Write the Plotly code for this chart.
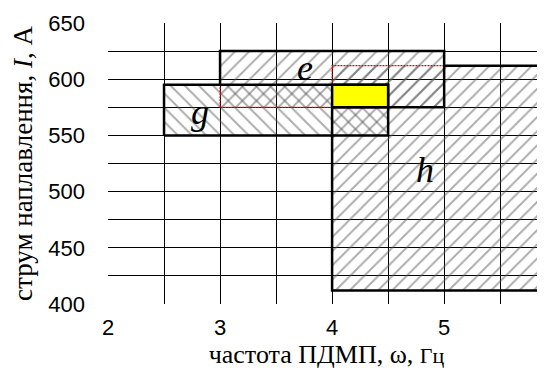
import plotly.graph_objects as go

# прямоугольные области режимов: g, e, h
rect_names = ['g', 'e', 'h']
rect_x0 = [2.5, 3.0, 4.0]
rect_x1 = [4.5, 5.0, 6.0]
rect_y0 = [550, 575, 412]
rect_y1 = [595, 625, 612]
rect_hatch = ['\\', '/', '/']

# спільна область (жовта)
common_x = [4.0, 4.5]
common_y = [575, 595]

# червоний пунктирний контур
red_x = [3.0, 3.0, 4.0, 4.0, 5.0, 5.0, 3.0]
red_y = [575, 595, 595, 612, 612, 575, 575]

# підписи областей
label_x = [2.82, 3.76, 4.83]
label_y = [571, 610, 519]

x_ticks = [2, 3, 4, 5]
y_ticks = [400, 450, 500, 550, 600, 650]

fig = go.Figure()

# заштриховані області (без рамок)
for i in range(len(rect_names)):
    xs = [rect_x0[i], rect_x1[i], rect_x1[i], rect_x0[i], rect_x0[i]]
    ys = [rect_y0[i], rect_y0[i], rect_y1[i], rect_y1[i], rect_y0[i]]
    fig.add_trace(go.Scatter(
        x=xs, y=ys, mode='lines', fill='toself',
        fillcolor='rgba(0,0,0,0)',
        fillpattern=dict(shape=rect_hatch[i], fgcolor='#5a5a5a', bgcolor='rgba(0,0,0,0)',
                         size=10, solidity=0.2, fillmode='overlay'),
        line=dict(width=0),
        showlegend=False, hoverinfo='skip'))

# червоний пунктир
fig.add_trace(go.Scatter(
    x=red_x, y=red_y, mode='lines',
    line=dict(color='red', width=1.2, dash='2px,1px'),
    showlegend=False, hoverinfo='skip'))

# видимі частини рамок
outlines = [
    ([rect_x0[0], rect_x1[0], rect_x1[0], rect_x0[0], rect_x0[0]],
     [rect_y0[0], rect_y0[0], rect_y1[0], rect_y1[0], rect_y0[0]]),
    ([rect_x0[1], rect_x0[1], rect_x1[1], rect_x1[1], rect_x0[2]],
     [rect_y1[0], rect_y1[1], rect_y1[1], rect_y0[1], rect_y0[1]]),
    ([rect_x1[1], rect_x1[2], rect_x1[2], rect_x0[2], rect_x0[2]],
     [rect_y1[2], rect_y1[2], rect_y0[2], rect_y0[2], rect_y0[1]]),
]
for xs, ys in outlines:
    fig.add_trace(go.Scatter(x=xs, y=ys, mode='lines', line=dict(color='black', width=2.5),
                             showlegend=False, hoverinfo='skip'))

fig.add_trace(go.Scatter(
    x=[common_x[0], common_x[1], common_x[1], common_x[0], common_x[0]],
    y=[common_y[0], common_y[0], common_y[1], common_y[1], common_y[0]],
    mode='lines', fill='toself', fillcolor='#FFFF00',
    line=dict(color='black', width=2.5), showlegend=False, hoverinfo='skip'))

for i in range(len(rect_names)):
    fig.add_annotation(x=label_x[i], y=label_y[i], text='<i>' + rect_names[i] + '</i>',
                       showarrow=False, font=dict(family='Liberation Serif', size=36, color='black'))

fig.update_xaxes(
    range=[2, 5.9], tickvals=x_ticks, showgrid=True, gridcolor='black', gridwidth=1,
    minor=dict(dtick=0.5, tick0=2, showgrid=True, gridcolor='black', gridwidth=1),
    zeroline=False, showline=False, ticks='', ticklabelstandoff=8, automargin=False,
    tickfont=dict(family='Liberation Sans', size=22, color='black'),
    title=dict(text='частота ПДМП, ω, <span style="font-size:22px">Гц</span>', standoff=0,
               font=dict(family='Liberation Serif', size=26, color='black')))

fig.update_yaxes(
    range=[400, 650], tickvals=y_ticks, showgrid=True, gridcolor='black', gridwidth=1,
    minor=dict(dtick=25, tick0=400, showgrid=True, gridcolor='black', gridwidth=1),
    zeroline=False, showline=False, ticks='', ticklabelstandoff=22, automargin=False,
    tickfont=dict(family='Liberation Sans', size=22, color='black'),
    title=dict(text='струм наплавлення, <i>I</i>, А', standoff=14,
               font=dict(family='Liberation Serif', size=27, color='black')))

# сторінка має відступ 8px, тому фігура трохи менша за вікно
fig.update_layout(
    width=537, height=362,
    margin=dict(l=100, r=0, t=15, b=66),
    plot_bgcolor='white', paper_bgcolor='white')

fig.write_html("out.html")
